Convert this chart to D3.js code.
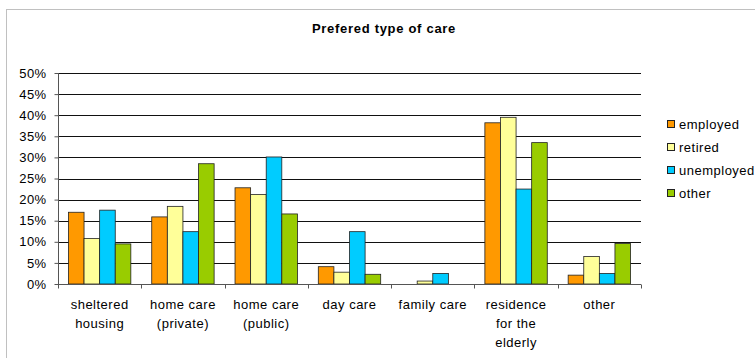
<!DOCTYPE html>
<html>
<head>
<meta charset="utf-8">
<script src="https://cdn.jsdelivr.net/npm/d3@7"></script>
<style>
  body { margin: 0; background: #fff; }
  svg { font-family: "Liberation Sans", Arial, sans-serif; }
</style>
</head>
<body>
<svg id="chart" width="755" height="358"></svg>
<script>
// categories (multi-line labels)
const categories = [
  ["sheltered", "housing"],
  ["home care", "(private)"],
  ["home care", "(public)"],
  ["day care"],
  ["family care"],
  ["residence", "for the", "elderly"],
  ["other"]
];
const seriesNames = ["employed", "retired", "unemployed", "other"];
const seriesColors = ["#FF9900", "#FFFF99", "#00CCFF", "#99CC00"];
// values in percent, per series
const employed   = [17.0, 15.9, 22.8, 4.1, 0.0, 38.2, 2.1];
const retired    = [10.8, 18.4, 21.2, 2.8, 0.7, 39.5, 6.5];
const unemployed = [17.5, 12.4, 30.1, 12.4, 2.5, 22.5, 2.5];
const otherGroup = [9.5, 28.5, 16.6, 2.3, 0.0, 33.5, 9.6];
const seriesValues = [employed, retired, unemployed, otherGroup];
const yTicks = [0, 5, 10, 15, 20, 25, 30, 35, 40, 45, 50];

const svg = d3.select("#chart");
const W = 755, H = 358;

// outer frame
svg.append("rect")
  .attr("x", 6.5).attr("y", 9.5)
  .attr("width", W - 6).attr("height", H)
  .attr("fill", "#fff")
  .attr("stroke", "#c0c0c0");

svg.append("text")
  .attr("x", 384).attr("y", 33)
  .attr("text-anchor", "middle")
  .style("font-size", "13px")
  .style("letter-spacing", "0.7px")
  .style("font-weight", "bold")
  .text("Prefered type of care");

const plotL = 58, plotR = 641, plotT = 73, plotB = 284;

const x = d3.scaleBand()
  .domain(d3.range(categories.length))
  .range([plotL, plotR]);

const xs = d3.scaleBand()
  .domain(d3.range(seriesNames.length))
  .range([0, x.bandwidth()])
  .paddingOuter(0.67);

const y = d3.scaleLinear().domain([0, 50]).range([plotB, plotT]);

// gridlines
svg.append("g").selectAll("line")
  .data(yTicks.filter(d => d > 0))
  .join("line")
  .attr("x1", plotL).attr("x2", plotR)
  .attr("y1", d => Math.round(y(d)) + 0.5)
  .attr("y2", d => Math.round(y(d)) + 0.5)
  .attr("stroke", "#111")
  .attr("stroke-width", 1);

// bars
const groups = svg.append("g").selectAll("g")
  .data(categories)
  .join("g")
  .attr("transform", (d, i) => `translate(${x(i)},0)`);

groups.selectAll("rect")
  .data((d, i) => seriesValues.map((vals, s) => ({ s, v: vals[i] })).filter(d => d.v > 0))
  .join("rect")
  .attr("x", d => xs(d.s))
  .attr("y", d => y(d.v))
  .attr("width", xs.bandwidth())
  .attr("height", d => y(0) - y(d.v))
  .attr("fill", d => seriesColors[d.s])
  .attr("stroke", "#222")
  .attr("stroke-width", 0.8);

// y axis
const yAxis = svg.append("g")
  .attr("transform", `translate(${plotL + 0.5},0)`)
  .call(d3.axisLeft(y).tickValues(yTicks).tickSize(4).tickPadding(8).tickFormat(d => d + "%"));
yAxis.select(".domain").attr("stroke", "#555").attr("d", `M0,${plotT}V${plotB}`);
yAxis.selectAll(".tick line").attr("stroke", "#555");
yAxis.selectAll("text")
  .style("font-size", "13px")
  .style("letter-spacing", "0.4px")
  .style("font-family", "Liberation Sans, Arial, sans-serif")
  .attr("fill", "#000");

// x axis
const xAxisG = svg.append("g").attr("transform", `translate(0,${plotB + 0.5})`);
xAxisG.append("line")
  .attr("x1", plotL).attr("x2", plotR)
  .attr("stroke", "#555");
xAxisG.selectAll("line.tk")
  .data(d3.range(categories.length + 1))
  .join("line")
  .attr("class", "tk")
  .attr("x1", i => Math.round(i < categories.length ? x(i) : plotR) + 0.5)
  .attr("x2", i => Math.round(i < categories.length ? x(i) : plotR) + 0.5)
  .attr("y1", 0).attr("y2", 4)
  .attr("stroke", "#555");

const lbl = xAxisG.selectAll("text.cat")
  .data(categories)
  .join("text")
  .attr("class", "cat")
  .attr("text-anchor", "middle")
  .style("font-size", "13px")
  .style("letter-spacing", "0.5px")
  .attr("transform", (d, i) => `translate(${x(i) + x.bandwidth() / 2},0)`);
lbl.selectAll("tspan")
  .data(d => d)
  .join("tspan")
  .attr("x", 0)
  .attr("y", (d, j) => 24 + j * 19)
  .text(d => d);

// legend
const legend = svg.append("g").attr("transform", "translate(667,0)");
const li = legend.selectAll("g")
  .data(seriesNames)
  .join("g")
  .attr("transform", (d, i) => `translate(0,${124 + i * 23})`);
li.append("rect")
  .attr("x", 0.5).attr("y", -3.5)
  .attr("width", 7).attr("height", 7)
  .attr("fill", (d, i) => seriesColors[i])
  .attr("stroke", "#222");
li.append("text")
  .attr("x", 12).attr("y", 5)
  .style("font-size", "13px")
  .style("letter-spacing", "0.5px")
  .text(d => d);
</script>
</body>
</html>
